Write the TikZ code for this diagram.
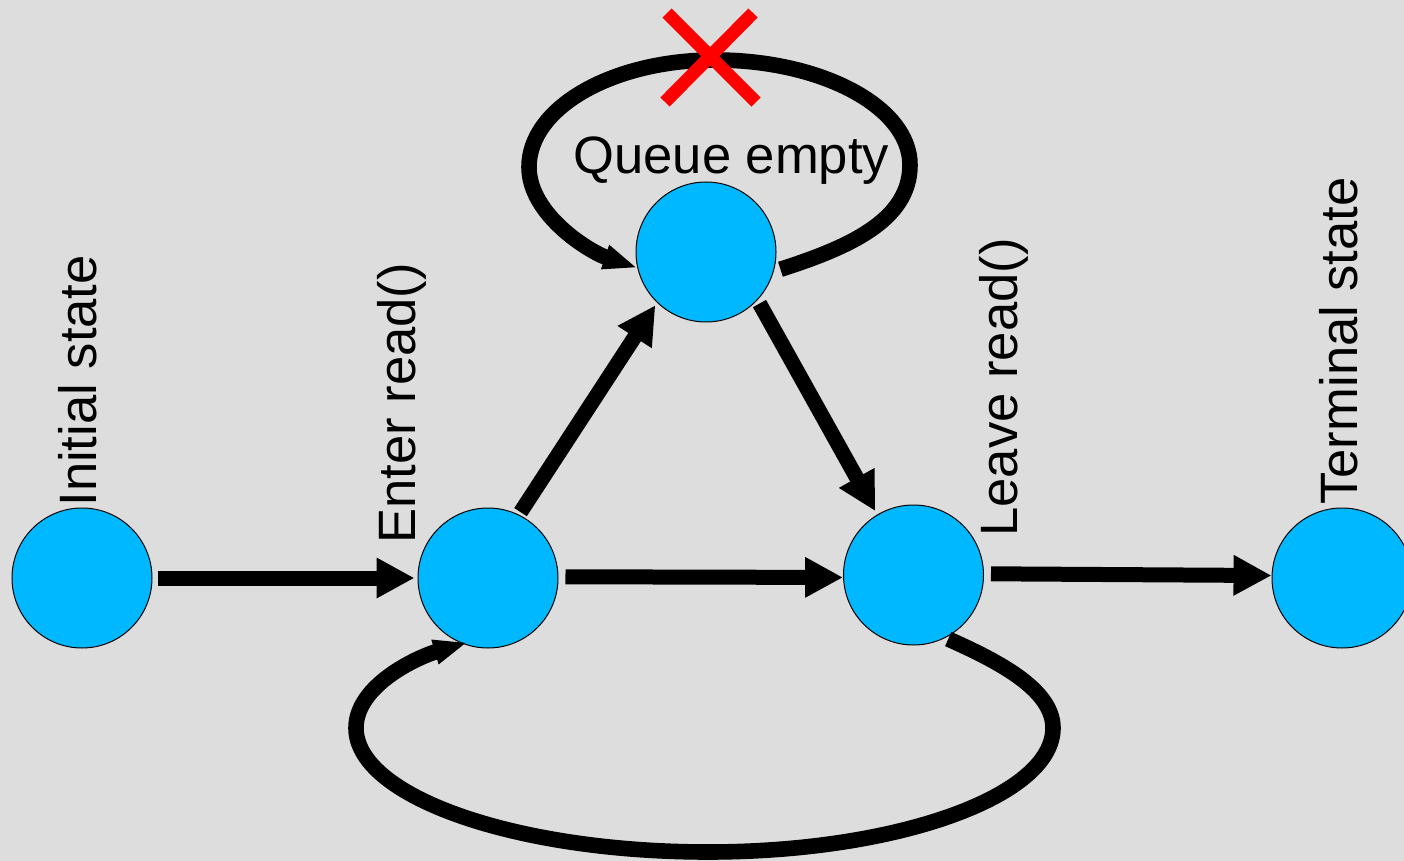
\documentclass[tikz,border=0pt]{standalone}
\usepackage{fontspec}
\setmainfont{Liberation Sans}
\usetikzlibrary{arrows.meta,calc}
\definecolor{bg}{HTML}{DDDDDD}
\definecolor{statefill}{HTML}{00B8FF}
\begin{document}
\begin{tikzpicture}[x=0.5pt,y=-0.5pt,
  state/.style={circle,draw=black,line width=0.5pt,fill=statefill,minimum size=70pt,inner sep=0pt},
  txt/.style={font=\fontsize{26.3pt}{31pt}\selectfont,inner sep=0pt},
  vtxt/.style={txt,rotate=90,anchor=base west},
  flow/.style={line width=7.5pt,-{Triangle[length=19pt,width=19pt]}},
  loopflow/.style={line width=7.8pt,-{Triangle[length=17pt,width=11.5pt]}},
  xmark/.style={red,line width=6.5pt}]
% canvas
\fill[bg] (0,0) rectangle (1404,861);
\useasboundingbox (0,0) rectangle (1404,861);

% states
\node[state] (ini) at (82,578) {};
\node[state] (ent) at (488,578) {};
\node[state] (que) at (706,252) {};
\node[state] (lea) at (913.5,575) {};
\node[state] (ter) at (1342,578) {};

% state labels
\node[vtxt] (tini) at (96,507) {Initial state};
\node[vtxt] (tent) at (415,544) {Enter read()};
\node[vtxt] (tlea) at (1017,537) {Leave read()};
\node[vtxt] (tter) at (1357,505) {Terminal state};
\node[txt,anchor=base west] (tque) at (573,174) {Queue empty};

% straight transitions
\draw[flow,shorten <=2.5pt,shorten >=1.5pt] (ini) -- (ent);
\draw[flow,shorten <=3.5pt] (ent.1) -- (lea.182);
\draw[flow,shorten <=3.5pt] (lea.1) -- (ter.178);
\draw[flow,shorten <=1.5pt,shorten >=1.5pt] (ent.64) -- (que.226);
\draw[flow,shorten <=2pt,shorten >=2pt] (que.317) -- (lea.121);

% self-loop on the empty queue state
\draw[loopflow,shorten <=3.5pt] (que.344)
  .. controls (850,247) and (910,220) .. (910,165)
  .. controls (910,107) and (822,60) .. (715,60)
  .. controls (612,60) and (529,108) .. (529,167)
  .. controls (529,215) and (590,252) .. (que.193);

% loop back from leave to enter
\draw[loopflow,shorten <=1.5pt,shorten >=-2.5pt] (lea.297)
  .. controls (1000,662) and (1053,690) .. (1053,728)
  .. controls (1053,796) and (898,852) .. (708,852)
  .. controls (514,852) and (356,796) .. (356,728)
  .. controls (356,685) and (418,657) .. (ent.249);

% forbidden self-loop mark
\draw[xmark] (667,13) -- (756,102);
\draw[xmark] (753,13) -- (665,102);
\end{tikzpicture}
\end{document}
